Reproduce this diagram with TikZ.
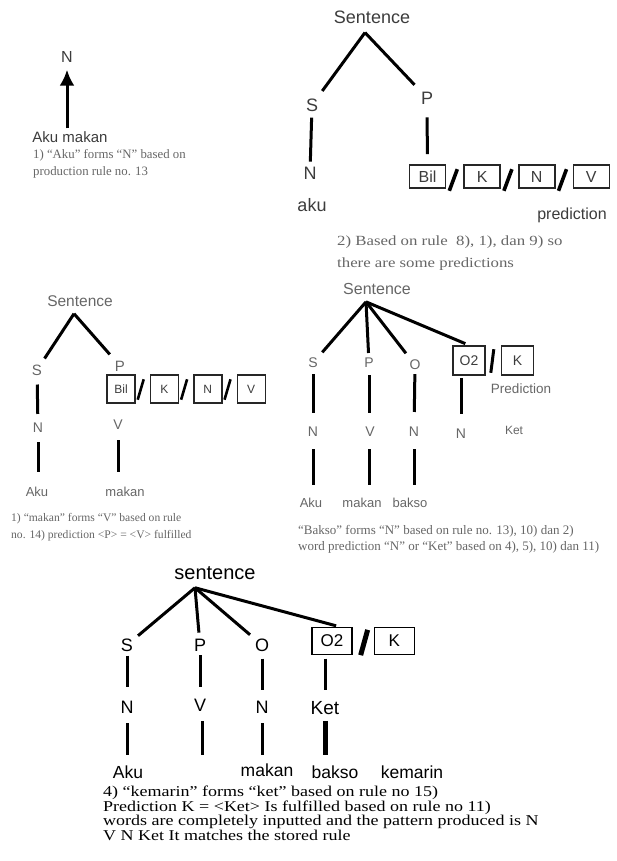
\documentclass[tikz,border=0pt]{standalone}
\usepackage{fontspec}
\setmainfont{Liberation Serif}
\setsansfont{Liberation Sans}
\newfontfamily\widetimes[FakeStretch=1.2]{Liberation Serif}
\usetikzlibrary{arrows.meta,positioning}
\definecolor{labelgray}{HTML}{3C3C3C}
\definecolor{notegray}{HTML}{666666}

\begin{document}
\begin{tikzpicture}[x=1pt,y=-1pt,
 sz/.style={font=\sffamily\fontsize{#1}{#1}\selectfont},
 sym/.style={sz=#1,inner sep=1pt,text=labelgray},
 sym/.default=18,
 box/.style={draw=black!85,line width=1.6pt,inner sep=0pt,text=labelgray},
 branch/.style={line width=3pt,shorten >=#1},
 branch/.default=6pt,
 stem/.style={line width=3pt},
 slash/.style={line width=3.6pt},
 arr/.style={-{Latex[length=16pt,width=15pt]},line width=3pt},
 note/.style={anchor=north west,inner sep=0pt,align=left,text=notegray}
]
\useasboundingbox (0,0) rectangle (616,861);

% step 1
\node[sym=16] (n1) at (67,57) {N};
\node[sym=15] (words1) at (70,137) {Aku makan};
\draw[arr,shorten <=2pt,shorten >=6pt] (words1.north -| n1) -- (n1);
\node[note,font=\fontsize{12.8}{17}\selectfont] (note1) at (33,149)
 {1) “Aku” forms “N” based on\\production rule no. 13};

% step 2
\node[sym] (sent2) at (372,17) {Sentence};
\coordinate (top2) at ([xshift=-7pt,yshift=-8pt]sent2.south);
\node[sym] (s2) at (312,105) {S};
\node[sym] (p2) at (427,98) {P};
\node[sym] (n2) at (310,173) {N};
\node[sym] (aku2) at (312,205) {aku};
\draw[branch=8pt] (top2) -- (s2);
\draw[branch=8pt] (top2) -- (p2);
\draw[stem,shorten <=5pt,shorten >=4pt] (s2) -- (n2);
\begin{scope}[every node/.style={box,minimum width=36pt,minimum height=23pt,sz=16}]
 \node (bil2) at (427.5,176.5) {Bil};
 \node[right=17pt of bil2] (k2) {K};
 \node[right=17pt of k2] (nb2) {N};
 \node[right=17pt of nb2] (v2) {V};
\end{scope}
\draw[stem,shorten <=12pt,shorten >=10pt] (p2) -- (bil2);
\draw[slash] ([xshift=3pt,yshift=-2pt]bil2.south east) -- ([xshift=-6pt,yshift=-5pt]k2.north west);
\draw[slash] ([xshift=3pt,yshift=-2pt]k2.south east) -- ([xshift=-6pt,yshift=-5pt]nb2.north west);
\draw[slash] ([xshift=3pt,yshift=-2pt]nb2.south east) -- ([xshift=-6pt,yshift=-5pt]v2.north west);
\node[sym=16] (pred2) at (572,215) {prediction};
\node[note,font=\widetimes\fontsize{14}{22}\selectfont] (note2) at (337,236)
 {2) Based on rule~ 8), 1), dan 9) so\\there are some predictions};

% step 3
\node[sym=15.5,text=black!60] (sent3) at (80,301) {Sentence};
\coordinate (top3) at ([xshift=-6pt,yshift=-6pt]sent3.south);
\node[sym=15,text=black!60] (s3) at (37,370) {S};
\node[sym=15,text=black!60] (p3) at (120,366) {P};
\draw[branch=6pt] (top3) -- (s3);
\draw[branch=7pt] (top3) -- (p3);
\begin{scope}[every node/.style={box,minimum width=28pt,minimum height=28pt,sz=12,line width=1.4pt}]
 \node (bil3) at (121,389) {Bil};
 \node[right=14pt of bil3] (k3) {K};
 \node[right=14pt of k3] (nb3) {N};
 \node[right=14pt of nb3] (v3b) {V};
\end{scope}
\draw[slash,line width=2.6pt] ([xshift=2pt,yshift=4pt]bil3.south east) -- ([xshift=-6pt,yshift=-5pt]k3.north west);
\draw[slash,line width=2.6pt] ([xshift=2pt,yshift=4pt]k3.south east) -- ([xshift=-6pt,yshift=-5pt]nb3.north west);
\draw[slash,line width=2.6pt] ([xshift=2pt,yshift=4pt]nb3.south east) -- ([xshift=-6pt,yshift=-5pt]v3b.north west);
\node[sym=14,text=black!60] (n3) at (38,428) {N};
\node[sym=14,text=black!60] (v3) at (118,425) {V};
\node[sym=13,text=black!60] (aku3) at (37,492) {Aku};
\node[sym=13,text=black!60] (makan3) at (125,492) {makan};
\draw[stem,shorten <=8pt,shorten >=8pt] (s3) -- (n3);
\draw[stem,shorten <=8pt,shorten >=14pt] (n3) -- (n3 |- aku3.north);
\draw[stem,shorten <=9pt,shorten >=14pt] (v3) -- (v3 |- makan3.north);
\node[note,font=\fontsize{11.6}{17}\selectfont] (note3) at (11,513)
 {1) “makan” forms “V” based on rule\\no. 14) prediction <P> = <V> fulfilled};

% step 3b
\node[sym=16,text=black!60] (sent4) at (377,289) {Sentence};
\coordinate (top4) at ([xshift=-11pt,yshift=-6pt]sent4.south);
\node[sym=14,text=black!60] (s4) at (313,363) {S};
\node[sym=14,text=black!60] (p4) at (369,363) {P};
\node[sym=14,text=black!60] (o4) at (415,365) {O};
\begin{scope}[every node/.style={box,minimum width=32pt,minimum height=29pt,sz=14}]
 \node (o2b4) at (469,360.5) {O2};
 \node[right=15pt of o2b4] (kb4) {K};
\end{scope}
\draw[slash,line width=3pt] ([xshift=5pt,yshift=3pt]o2b4.south east) -- ([xshift=-7pt,yshift=-4pt]kb4.north west);
\draw[branch=6pt] (top4) -- (s4);
\draw[branch=4pt] (top4) -- (p4);
\draw[branch=7pt] (top4) -- (o4);
\draw[branch=4pt] (top4) -- (o2b4.north);
\node[sym=13.5,text=black!60] (pred4) at (521,389) {Prediction};
\node[sym=14,text=black!60] (n4a) at (313,432) {N};
\node[sym=14,text=black!60] (v4) at (370,432) {V};
\node[sym=14,text=black!60] (n4b) at (414,432) {N};
\node[sym=14,text=black!60] (n4c) at (461,434) {N};
\node[sym=12,text=black!60] (ket4) at (514,430) {Ket};
\draw[stem,shorten <=5pt,shorten >=13pt] (s4) -- (n4a);
\draw[stem,shorten <=6pt,shorten >=13pt] (p4) -- (p4 |- v4.north);
\draw[stem,shorten <=3pt,shorten >=14pt] (o4) -- (n4b);
\draw[stem,shorten <=2pt,shorten >=14pt] (n4c |- o2b4.south) -- (n4c);
\node[sym=13,text=black!60] (aku4) at (311,503) {Aku};
\node[sym=13,text=black!60] (makan4) at (362,503) {makan};
\node[sym=13,text=black!60] (bakso4) at (410,503) {bakso};
\draw[stem,shorten <=11pt,shorten >=12pt] (n4a) -- (n4a |- aku4.north);
\draw[stem,shorten <=11pt,shorten >=12pt] (v4.south -| p4) -- (p4 |- makan4.north);
\draw[stem,shorten <=11pt,shorten >=12pt] (n4b) -- (n4b |- bakso4.north);
\node[note,font=\fontsize{13}{16}\selectfont] (note4) at (298,525)
 {“Bakso” forms “N” based on rule no. 13), 10) dan 2)\\word prediction “N” or “Ket” based on 4), 5), 10) dan 11)};

% step 4
\node[sym=20,text=black] (sent5) at (215,573) {sentence};
\coordinate (top5) at ([xshift=-20pt,yshift=-7pt]sent5.south);
\node[sym,text=black] (s5) at (127,645) {S};
\node[sym,text=black] (p5) at (200,645) {P};
\node[sym,text=black] (o5) at (262,645) {O};
\begin{scope}[every node/.style={box,draw=black,line width=1.3pt,minimum width=40pt,minimum height=27pt,sz=17,text=black}]
 \node (o2b5) at (332,641) {O2};
 \node[right=21pt of o2b5] (kb5) {K};
\end{scope}
\draw[slash,line width=5pt] ([xshift=8pt]o2b5.south east) -- ([xshift=-6pt,yshift=-3pt]kb5.north west);
\draw[branch=5pt] (top5) -- (s5);
\draw[branch=5pt] (top5) -- (p5);
\draw[branch=5pt] (top5) -- (o5);
\draw[branch=4pt] (top5) -- ([xshift=8pt]o2b5.north);
\node[sym,text=black] (n5a) at (127,707) {N};
\node[sym,text=black] (v5) at (200,705) {V};
\node[sym,text=black] (n5b) at (262,707) {N};
\node[sym=19,text=black] (ket5) at (325,708) {Ket};
\draw[stem,shorten <=3pt,shorten >=13pt] (s5) -- (n5a);
\draw[stem,shorten <=3pt,shorten >=11pt] (p5) -- (v5);
\draw[stem,shorten <=6pt,shorten >=10pt] (o5) -- (n5b);
\draw[stem,shorten <=3.5pt,shorten >=10pt] (ket5 |- o2b5.south) -- (ket5);
\node[sym=17.5,text=black] (aku5) at (128,772) {Aku};
\node[sym=17.5,text=black] (makan5) at (267,770) {makan};
\node[sym=17.5,text=black] (bakso5) at (335,772) {bakso};
\node[sym=17.5,text=black] (kemarin5) at (412,772) {kemarin};
\draw[stem,shorten <=9pt,shorten >=9pt] (n5a) -- (n5a |- aku5.north);
\draw[stem,shorten <=9pt,shorten >=9pt] ([xshift=2pt]v5.south) -- ([xshift=2pt]v5 |- aku5.north);
\draw[stem,shorten <=9pt,shorten >=9pt] (n5b) -- (n5b |- aku5.north);
\draw[stem,line width=5pt,shorten <=5pt,shorten >=9pt] (ket5) -- (ket5 |- bakso5.north);
\node[note,text=black,font=\widetimes\fontsize{15}{14.5}\selectfont] (note5) at (103,786)
 {4) “kemarin” forms “ket” based on rule no 15)\\Prediction K = <Ket> Is fulfilled based on rule no 11)\\words are completely inputted and the pattern produced is N\\V N Ket It matches the stored rule};
\end{tikzpicture}
\end{document}
